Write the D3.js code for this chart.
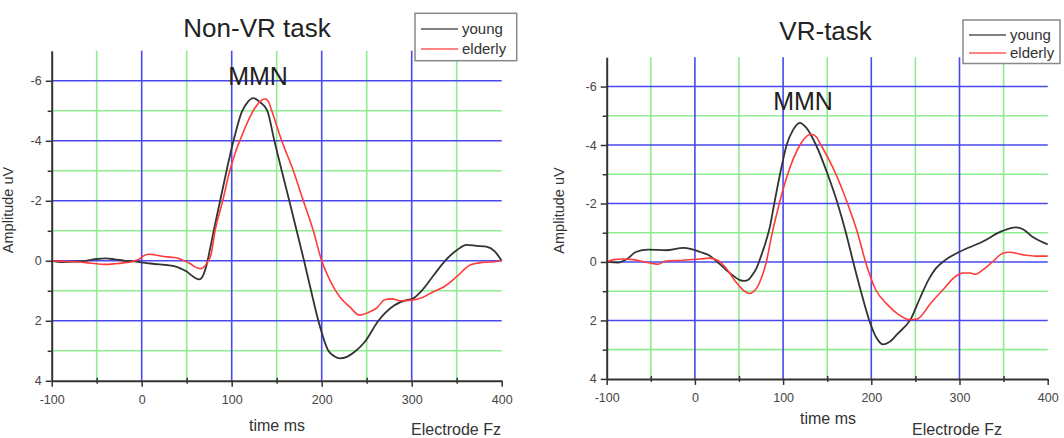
<!DOCTYPE html>
<html>
<head>
<meta charset="utf-8">
<script src="https://cdn.jsdelivr.net/npm/d3@7"></script>
<style>
  body { margin: 0; background: #fff; }
  svg { display: block; font-family: "Liberation Sans", Arial, sans-serif; }
</style>
</head>
<body>
<script>
// time (ms) / amplitude (uV)
var nvYoungT = [-100,-88,-75,-62,-50,-40,-30,-18,-8,0,10,20,28,36,43,50,56,60,64,68,72,76,80,85,90,95,102,111,118,124,131,139.6,147.4,155.6,164,172.2,180.4,188.2,196.3,207.4,214,220,228,236,248,263,280,294,300,311,324,337,350,361,372,383,392,400];
var nvYoungV = [0,0.04,0.03,0,-0.06,-0.08,-0.05,0,0.02,0.05,0.09,0.12,0.14,0.18,0.25,0.36,0.5,0.58,0.62,0.5,0.15,-0.4,-1,-1.7,-2.4,-3.1,-4,-4.95,-5.3,-5.42,-5.3,-5,-4,-3,-2,-1,0,1,2,3,3.18,3.25,3.2,3.05,2.7,2,1.5,1.31,1.28,1,0.5,0,-0.35,-0.53,-0.5,-0.47,-0.32,0];

var nvElderT = [-100,-88,-75,-62,-50,-42,-30,-20,-10,-3,3,8,14,21,28,36,42,47,53,58,62,66,70,74,77,81.5,90,97,104,111,118,126,132,137,141,144.5,155.6,168.5,179.6,190.7,200,210,220,231,242,252,261,270,278,287,300,312,324,335,350,365,380,392,400];
var nvElderV = [0,0.02,0.03,0.06,0.1,0.12,0.1,0.07,0.02,-0.05,-0.18,-0.22,-0.2,-0.16,-0.13,-0.11,-0.07,0,0.08,0.18,0.24,0.26,0.18,0,-0.2,-1,-2,-2.9,-3.6,-4.15,-4.65,-5.1,-5.32,-5.4,-5.3,-5,-4,-3,-2,-1,0,0.7,1.2,1.53,1.81,1.72,1.58,1.3,1.27,1.33,1.31,1.22,1.03,0.88,0.53,0.14,0.05,0.03,0];

var vrYoungT = [-100,-87,-77,-67,-53,-33,-13,-4,6,16,25.5,35,45,51,56,61,65,70,75,80,85,90,96.5,104,111,119,126,137.3,150.5,161.8,171.2,179.5,188.2,197.7,206,213.5,220,230,245,255,265.6,273,284.5,299.6,326,348.7,363.7,372,382.6,397.7,400];
var vrYoungV = [0,0.02,-0.1,-0.34,-0.42,-0.4,-0.48,-0.44,-0.34,-0.23,0,0.26,0.51,0.62,0.65,0.6,0.45,0.2,-0.2,-0.65,-1.2,-2,-3,-4,-4.5,-4.76,-4.6,-4,-3,-2,-1,0,1,2,2.6,2.82,2.75,2.45,1.94,1.25,0.57,0.23,-0.08,-0.34,-0.69,-1.06,-1.18,-1.12,-0.86,-0.63,-0.6];

var vrElderT = [-100,-92,-82,-70,-57,-42,-33,-13,6,16,25.5,35,45,55,61.7,66,71,76,81,87,95.7,105.2,119.1,125,131.6,137,142.9,159.9,173.1,184.4,193.5,205,218,231,243,252,258,265.6,280.7,295.8,303.4,312,318.5,326,337.3,348.7,356.2,371.3,386.4,400];
var vrElderV = [0,-0.08,-0.1,-0.08,0,0.08,-0.03,-0.06,-0.1,-0.13,-0.06,0.2,0.63,0.97,1.08,1.02,0.85,0.5,0,-0.9,-2,-3,-4,-4.25,-4.37,-4.3,-4,-3,-2,-1,0,0.95,1.45,1.8,1.97,1.95,1.8,1.48,0.97,0.49,0.38,0.38,0.42,0.28,0,-0.29,-0.33,-0.25,-0.2,-0.2];

var xMajor = [-100, 0, 100, 200, 300, 400];
var xMinor = [-50, 50, 150, 250, 350];
var yMajor = [-6, -4, -2, 0, 2, 4];
var yMinor = [-5, -3, -1, 1, 3];
var seriesNames = ["young", "elderly"];
var seriesColors = ["#333333", "#ff3b3b"];

var width = 1064, height = 438;

var svg = d3.select("body").append("svg")
    .attr("width", width)
    .attr("height", height);

function zip(ts, vs) {
    return ts.map(function(t, i) { return { t: t, v: vs[i] }; });
}

function drawPanel(p) {
    var x = d3.scaleLinear().domain([-100, 400]).range([p.x0, p.x1]);
    var y = d3.scaleLinear().domain([-7, 4]).range([p.y0, p.y1]);
    var g = svg.append("g");

    // grid: green first, blue on top
    var grid = g.append("g");
    grid.selectAll(".vg").data(xMinor).enter().append("line")
        .attr("x1", d => x(d)).attr("x2", d => x(d))
        .attr("y1", y(-7)).attr("y2", y(4))
        .attr("stroke", "#8fec8f").attr("stroke-width", 1.6);
    grid.selectAll(".hg").data(yMinor).enter().append("line")
        .attr("x1", x(-100)).attr("x2", x(400))
        .attr("y1", d => y(d)).attr("y2", d => y(d))
        .attr("stroke", "#8fec8f").attr("stroke-width", 1.6);
    grid.selectAll(".vb").data(xMajor.slice(1, 5)).enter().append("line")
        .attr("x1", d => x(d)).attr("x2", d => x(d))
        .attr("y1", y(-7)).attr("y2", y(4))
        .attr("stroke", "#4848ee").attr("stroke-width", 1.6);
    grid.selectAll(".hb").data(yMajor.slice(0, 5)).enter().append("line")
        .attr("x1", x(-100)).attr("x2", x(400))
        .attr("y1", d => y(d)).attr("y2", d => y(d))
        .attr("stroke", "#4848ee").attr("stroke-width", 1.6);

    // curves
    var line = d3.line()
        .x(d => x(d.t))
        .y(d => y(d.v))
        .curve(d3.curveMonotoneX);
    [p.young, p.elder].forEach(function(s, i) {
        g.append("path")
            .datum(s)
            .attr("d", line)
            .attr("fill", "none")
            .attr("stroke", seriesColors[i])
            .attr("stroke-width", i == 0 ? 1.8 : 1.6);
    });

    // axes
    var leftAxis = d3.axisLeft(y).tickValues(yMajor).tickSize(6).tickSizeOuter(0)
        .tickPadding(4).tickFormat(d => String(d));
    var bottomAxis = d3.axisBottom(x).tickValues(xMajor).tickSize(6).tickSizeOuter(0)
        .tickPadding(8).tickFormat(d => String(d));

    var ya = g.append("g").attr("transform", `translate(${p.x0},0)`).call(leftAxis);
    g.append("g").attr("transform", `translate(${p.x0},0)`)
        .call(d3.axisLeft(y).tickValues(yMinor).tickSize(4).tickFormat(""))
        .select(".domain").remove();
    var xa = g.append("g").attr("transform", `translate(0,${p.y1})`).call(bottomAxis);
    g.append("g").attr("transform", `translate(0,${p.y1 + 3})`)
        .call(d3.axisBottom(x).tickValues(xMinor).tickSize(-6).tickFormat(""))
        .select(".domain").remove();

    g.selectAll(".domain").attr("stroke", "#333").attr("stroke-width", 2);
    g.selectAll(".tick line").attr("stroke", "#333").attr("stroke-width", 1.5);
    [ya, xa].forEach(function(a) {
        a.selectAll("text").attr("fill", "#444").style("font-size", "12.5px")
            .style("font-family", "Liberation Sans, Arial, sans-serif");
    });

    // texts
    g.append("text").attr("x", p.titleX).attr("y", p.titleY)
        .attr("text-anchor", "middle").style("font-size", "26px").attr("fill", "#222")
        .text(p.title);
    g.append("text").attr("x", p.mmnX).attr("y", p.mmnY)
        .attr("text-anchor", "middle").style("font-size", "25px").attr("fill", "#222")
        .text("MMN");
    g.append("text")
        .attr("transform", `translate(${p.ylabX},${p.ylabY}) rotate(-90)`)
        .attr("text-anchor", "middle").style("font-size", "14.5px").attr("fill", "#333")
        .text("Amplitude uV");
    g.append("text").attr("x", p.timeX).attr("y", p.timeY)
        .attr("text-anchor", "middle").style("font-size", "16px").attr("fill", "#333")
        .text("time ms");
    g.append("text").attr("x", p.elecX).attr("y", p.elecY)
        .attr("text-anchor", "middle").style("font-size", "16px").attr("fill", "#333")
        .text("Electrode Fz");

    // legend
    var lg = g.append("g").attr("transform", `translate(${p.legX},${p.legY})`);
    lg.append("rect").attr("width", p.legW).attr("height", p.legH)
        .attr("fill", "#fff").attr("stroke", "#888").attr("stroke-width", 1.5);
    seriesNames.forEach(function(name, i) {
        var yy = p.legRow0 + i * p.legStep;
        lg.append("line").attr("x1", 6).attr("x2", 43).attr("y1", yy).attr("y2", yy)
            .attr("stroke", i == 0 ? "#555" : "#ff5a5a").attr("stroke-width", 1.5);
        lg.append("text").attr("x", 47).attr("y", yy + 5)
            .style("font-size", "15px").attr("fill", "#333").text(name);
    });
}

drawPanel({
    x0: 51.7, x1: 501.7, y0: 50.8, y1: 380.8,
    young: zip(nvYoungT, nvYoungV), elder: zip(nvElderT, nvElderV),
    title: "Non-VR task", titleX: 257, titleY: 37,
    mmnX: 258, mmnY: 84.5,
    ylabX: 13, ylabY: 210,
    timeX: 277, timeY: 431, elecX: 456, elecY: 435,
    legX: 415, legY: 13.3, legW: 101.7, legH: 47.4, legRow0: 15.7, legStep: 20
});

drawPanel({
    x0: 606.7, x1: 1047.7, y0: 57.3, y1: 378.9,
    young: zip(vrYoungT, vrYoungV), elder: zip(vrElderT, vrElderV),
    title: "VR-task", titleX: 825.6, titleY: 39.5,
    mmnX: 803, mmnY: 109.7,
    ylabX: 564, ylabY: 210.5,
    timeX: 828, timeY: 424, elecX: 957, elecY: 435,
    legX: 963, legY: 20, legW: 97, legH: 43.5, legRow0: 15, legStep: 18
});
</script>
</body>
</html>
